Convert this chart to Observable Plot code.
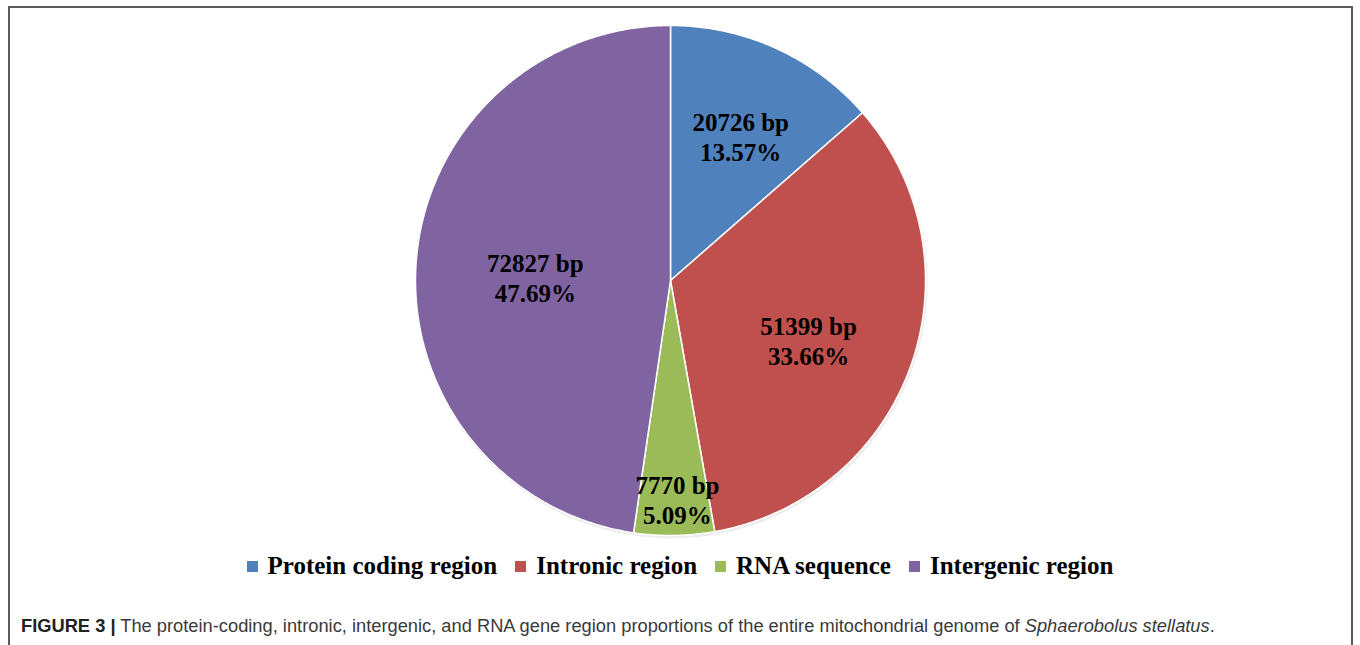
<!DOCTYPE html>
<html>
<head>
<meta charset="utf-8">
<script src="https://cdn.jsdelivr.net/npm/d3@7"></script>
<script src="https://cdn.jsdelivr.net/npm/@observablehq/plot@0.6"></script>
<style>
  html, body { margin: 0; padding: 0; background: #fff; }
  body { width: 1360px; height: 645px; position: relative; overflow: hidden; }
  #frame {
    position: absolute; left: 8px; top: 6px; width: 1345px; height: 700px;
    border: 2px solid #5a5a5a; border-bottom: none; box-sizing: border-box;
  }
  #chart { position: absolute; left: 0; top: 0; }
  #legend {
    position: absolute; left: 0; top: 552px; width: 1360px; height: 28px;
    display: flex; justify-content: center; align-items: center;
    font-family: "Liberation Serif", "Times New Roman", serif; font-weight: bold;
    font-size: 25px; color: #000; padding-left: 0px; box-sizing: border-box;
  }
  .item { display: flex; align-items: center; margin-right: 18px; }
  .item:last-child { margin-right: 0; }
  .swatch { width: 11px; height: 11px; margin-right: 10px; }
  #caption {
    position: absolute; left: 21px; top: 615px;
    font-family: "Liberation Sans", Arial, sans-serif; font-size: 18.3px; color: #3a3a3a;
    white-space: nowrap;
  }
  #caption b { color: #222; }
</style>
</head>
<body>
<div id="frame"></div>
<div id="chart"></div>
<div id="legend"></div>
<div id="caption"><b>FIGURE 3 |</b> The protein-coding, intronic, intergenic, and RNA gene region proportions of the entire mitochondrial genome of <i>Sphaerobolus stellatus</i>.</div>
<script>
// Mitochondrial genome composition (bp per region)
const regions = ["Protein coding region", "Intronic region", "RNA sequence", "Intergenic region"];
const lengths = [20726, 51399, 7770, 72827];
const colors = ["#4F81BD", "#C0504D", "#9BBB59", "#8064A2"];

// label placement per slice: fraction of the radius, and a small turn (degrees) from the mid-angle
const labelRadius = [0.63, 0.59, 0.86, 0.53];
const labelTurn = [1.5, 4, -1, -2.7];

const total = d3.sum(lengths);
const arcs = d3.pie().sort(null).value(d => d)(lengths);

// slice outlines: centre, then along the arc, then back to centre (angle 0 at top, clockwise)
const slicePoints = [];
arcs.forEach((a, i) => {
  const name = regions[i];
  slicePoints.push({name, x: 0, y: 0});
  const steps = Math.max(2, Math.ceil((a.endAngle - a.startAngle) / (Math.PI / 360)));
  for (let k = 0; k <= steps; k++) {
    const t = a.startAngle + (a.endAngle - a.startAngle) * k / steps;
    slicePoints.push({name, x: Math.sin(t), y: Math.cos(t)});
  }
  slicePoints.push({name, x: 0, y: 0});
});

const labels = arcs.map((a, i) => {
  const mid = (a.startAngle + a.endAngle) / 2 + labelTurn[i] * Math.PI / 180;
  const r = labelRadius[i];
  return {
    x: r * Math.sin(mid),
    y: r * Math.cos(mid),
    text: `${lengths[i]} bp\n${(lengths[i] / total * 100).toFixed(2)}%`
  };
});

const chart = Plot.plot({
  width: 1360,
  height: 545,
  marginLeft: 415,
  marginRight: 435,
  marginTop: 25,
  marginBottom: 10,
  x: {domain: [-1, 1], axis: null},
  y: {domain: [-1, 1], axis: null},
  color: {domain: regions, range: colors},
  style: {background: "transparent", overflow: "visible"},
  marks: [
    Plot.dot([{x: 0, y: 0}], {x: "x", y: "y", r: 256, fill: "#000", fillOpacity: 0.07, dx: 1, dy: 2, stroke: "none"}),
    Plot.line(slicePoints, {x: "x", y: "y", z: "name", fill: "name", stroke: "white", strokeWidth: 1.5, strokeLinejoin: "round"}),
    Plot.text(labels, {
      x: "x", y: "y", text: "text",
      fontSize: 25, fontWeight: "bold",
      fontFamily: "'Liberation Serif', 'Times New Roman', serif",
      fill: "#000", lineHeight: 1.2
    })
  ]
});
document.getElementById("chart").appendChild(chart);

// legend row below the pie
const legend = d3.select("#legend");
regions.forEach((name, i) => {
  const item = legend.append("div").attr("class", "item");
  item.append("div").attr("class", "swatch").style("background", colors[i]);
  item.append("span").text(name);
});
</script>
</body>
</html>
